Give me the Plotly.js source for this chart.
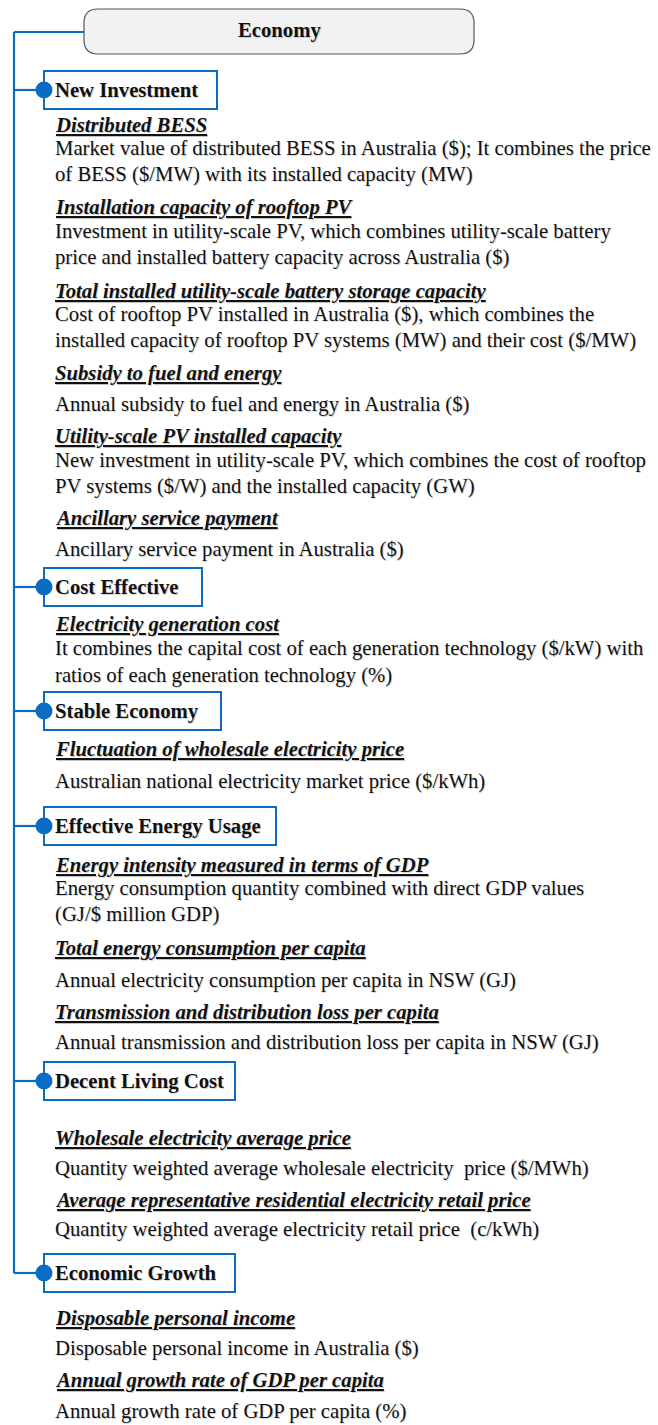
<!DOCTYPE html>
<html>
<head>
<meta charset="utf-8">
<script src="https://cdn.plot.ly/plotly-3.0.1.min.js"></script>
<style>html,body{margin:0;padding:0;background:#fff;}#chart{width:658px;height:1425px;}</style>
</head>
<body>
<div id="chart"></div>
<script>
// ---------- DATA ----------
const rootTitle = 'Economy';
const categories = ['New Investment', 'Cost Effective', 'Stable Economy', 'Effective Energy Usage', 'Decent Living Cost', 'Economic Growth'];
const indicatorNames = [
  ['Distributed BESS', 'Installation capacity of rooftop PV', 'Total installed utility-scale battery storage capacity', 'Subsidy to fuel and energy', 'Utility-scale PV installed capacity', 'Ancillary service payment'],
  ['Electricity generation cost'],
  ['Fluctuation of wholesale electricity price'],
  ['Energy intensity measured in terms of GDP', 'Total energy consumption per capita', 'Transmission and distribution loss per capita'],
  ['Wholesale electricity average price', 'Average representative residential electricity retail price'],
  ['Disposable personal income', 'Annual growth rate of GDP per capita']
];
const indicatorDescriptions = [
  [
    ['Market value of distributed BESS in Australia ($); It combines the price', 'of BESS ($/MW) with its installed capacity (MW)'],
    ['Investment in utility-scale PV, which combines utility-scale battery', 'price and installed battery capacity across Australia ($)'],
    ['Cost of rooftop PV installed in Australia ($), which combines the', 'installed capacity of rooftop PV systems (MW) and their cost ($/MW)'],
    ['Annual subsidy to fuel and energy in Australia ($)'],
    ['New investment in utility-scale PV, which combines the cost of rooftop', 'PV systems ($/W) and the installed capacity (GW)'],
    ['Ancillary service payment in Australia ($)']
  ],
  [
    ['It combines the capital cost of each generation technology ($/kW) with', 'ratios of each generation technology (%)']
  ],
  [
    ['Australian national electricity market price ($/kWh)']
  ],
  [
    ['Energy consumption quantity combined with direct GDP values', '(GJ/$ million GDP)'],
    ['Annual electricity consumption per capita in NSW (GJ)'],
    ['Annual transmission and distribution loss per capita in NSW (GJ)']
  ],
  [
    ['Quantity weighted average wholesale electricity  price ($/MWh)'],
    ['Quantity weighted average electricity retail price  (c/kWh)']
  ],
  [
    ['Disposable personal income in Australia ($)'],
    ['Annual growth rate of GDP per capita (%)']
  ]
];

// ---------- LAYOUT (pixel positions, page coordinates) ----------
const W = 658, H = 1425;
const spineX = 14;
const textX = 53;
const FS = 20.7;
const titleBox = {x0: 84, x1: 474, y0: 9, y1: 54, r: 14};
const catY = [90, 587, 711, 826, 1081, 1273];
const catBoxRight = [217, 202, 221, 276, 235, 235];
const catBoxHalf = 19;
const nameY = [[125, 207, 291, 373, 436, 518], [624], [749], [865, 948, 1012], [1138, 1200], [1318, 1380]];
const descY = [
  [[148, 174], [231, 257], [314, 340], [404], [460, 486], [549]],
  [[648, 675]],
  [[781]],
  [[888, 914], [980], [1042]],
  [[1168], [1229]],
  [[1348], [1411]]
];
const BLUE = '#0b6cc4';
const FONT = '"Liberation Serif", "Times New Roman", serif';

const shapes = [];
const annotations = [];

function addText(txt, x, y, size, opts) {
  opts = opts || {};
  annotations.push({
    x: x + 1, y: y + 1, xref: 'x', yref: 'y', text: txt, showarrow: false,
    xanchor: opts.xanchor || 'left', yanchor: 'middle',
    font: {family: FONT, size: size, color: 'rgba(0,0,0,0.18)'}
  });
  annotations.push({
    x: x, y: y, xref: 'x', yref: 'y', text: txt, showarrow: false,
    xanchor: opts.xanchor || 'left', yanchor: 'middle',
    font: {family: FONT, size: size, color: '#111'}
  });
}

// Title rounded box
const b = titleBox;
shapes.push({
  type: 'path', xref: 'x', yref: 'y',
  path: `M ${b.x0 + b.r} ${b.y0} L ${b.x1 - b.r} ${b.y0} Q ${b.x1} ${b.y0} ${b.x1} ${b.y0 + b.r} L ${b.x1} ${b.y1 - b.r} Q ${b.x1} ${b.y1} ${b.x1 - b.r} ${b.y1} L ${b.x0 + b.r} ${b.y1} Q ${b.x0} ${b.y1} ${b.x0} ${b.y1 - b.r} L ${b.x0} ${b.y0 + b.r} Q ${b.x0} ${b.y0} ${b.x0 + b.r} ${b.y0} Z`,
  fillcolor: '#f2f2f2', line: {color: '#555', width: 1.2}, layer: 'below'
});
addText('<b>' + rootTitle + '</b>', (b.x0 + b.x1) / 2, (b.y0 + b.y1) / 2 - 1, FS, {xanchor: 'center'});

// spine
const titleMidY = 32;
shapes.push({type: 'line', xref: 'x', yref: 'y', x0: spineX, x1: spineX, y0: titleMidY, y1: catY[catY.length - 1], line: {color: BLUE, width: 2.2}});
shapes.push({type: 'line', xref: 'x', yref: 'y', x0: spineX, x1: b.x0, y0: titleMidY, y1: titleMidY, line: {color: BLUE, width: 2.2}});

const dotX = [], dotY = [];
categories.forEach((cat, i) => {
  const cy = catY[i];
  shapes.push({type: 'rect', xref: 'x', yref: 'y', x0: 44, x1: catBoxRight[i], y0: cy - catBoxHalf, y1: cy + catBoxHalf, line: {color: BLUE, width: 2}, fillcolor: 'rgba(0,0,0,0)'});
  shapes.push({type: 'line', xref: 'x', yref: 'y', x0: spineX, x1: 44, y0: cy, y1: cy, line: {color: BLUE, width: 2.2}});
  dotX.push(44); dotY.push(cy);
  addText('<b>' + cat + '</b>', textX, cy, FS);
  indicatorNames[i].forEach((nm, j) => {
    addText('<b><i><u>' + nm + '</u></i></b>', textX, nameY[i][j], FS);
    indicatorDescriptions[i][j].forEach((line, k) => {
      addText(line, textX, descY[i][j][k], FS);
    });
  });
});

const trace = {
  x: dotX, y: dotY, mode: 'markers', type: 'scatter', hoverinfo: 'skip',
  marker: {size: 17, color: BLUE, line: {width: 0}}, showlegend: false
};

const layout = {
  width: W, height: H,
  margin: {l: 0, r: 0, t: 0, b: 0},
  paper_bgcolor: '#fff', plot_bgcolor: '#fff',
  xaxis: {range: [0, W], visible: false, fixedrange: true},
  yaxis: {range: [H, 0], visible: false, fixedrange: true},
  shapes: shapes, annotations: annotations, showlegend: false
};

Plotly.newPlot('chart', [trace], layout, {displayModeBar: false, staticPlot: true});
</script>
</body>
</html>
